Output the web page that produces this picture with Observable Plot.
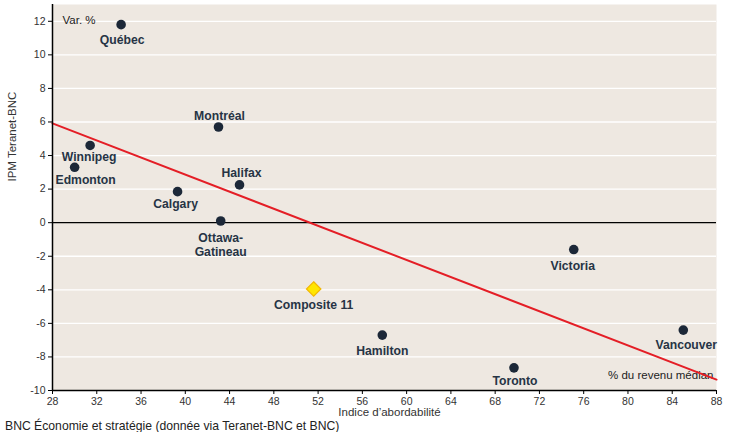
<!DOCTYPE html>
<html>
<head>
<meta charset="utf-8">
<script src="https://cdn.jsdelivr.net/npm/d3@7"></script>
<script src="https://cdn.jsdelivr.net/npm/@observablehq/plot@0.6"></script>
<style>
  body { margin: 0; background: #fff; font-family: "Liberation Sans", Arial, sans-serif; }
  #chart svg { display: block; }
  .caption { font-size: 12.2px; color: #222; margin: 0 0 0 5px; line-height: 12px; }
</style>
</head>
<body>
<div id="chart"></div>
<div class="caption">BNC Économie et stratégie (donnée via Teranet-BNC et BNC)</div>
<script>
// Data
const cities = ["Québec", "Montréal", "Winnipeg", "Edmonton", "Calgary", "Halifax", "Ottawa-\nGatineau", "Hamilton", "Victoria", "Vancouver", "Toronto"];
const affordability = [34.2, 43.0, 31.4, 30.0, 39.3, 44.9, 43.2, 57.8, 75.1, 85.0, 69.7];
const ipmChange = [11.8, 5.7, 4.6, 3.3, 1.85, 2.25, 0.1, -6.7, -1.6, -6.4, -8.65];
const compositeName = ["Composite 11"];
const compositeAffordability = [51.6];
const compositeIpm = [-3.95];
const trendX = [28, 88];
const trendY = [5.92, -9.35];
const xTicks = [28, 32, 36, 40, 44, 48, 52, 56, 60, 64, 68, 72, 76, 80, 84, 88];
const yTicks = [-10, -8, -6, -4, -2, 0, 2, 4, 6, 8, 10, 12];

// Label styling (offsets in px)
const labelStyle = {
  "Québec": {dx: 1, dy: 15},
  "Montréal": {dx: 1, dy: -12},
  "Winnipeg": {dx: -1, dy: 11},
  "Edmonton": {dx: 11, dy: 12},
  "Calgary": {dx: -2, dy: 12},
  "Halifax": {dx: 2, dy: -12},
  "Ottawa-\nGatineau": {dx: 0, dy: 24},
  "Hamilton": {dx: 0, dy: 15},
  "Victoria": {dx: -1, dy: 16},
  "Vancouver": {dx: 3, dy: 14},
  "Toronto": {dx: 1, dy: 13}
};

const idx = d3.range(cities.length);
const trend = trendX.map((x, i) => ({x, y: trendY[i]}));
const comp = compositeName.map((n, i) => ({n, x: compositeAffordability[i], y: compositeIpm[i]}));

const navy = "#1c2838";
const labelFont = {fontSize: 12.2, fontWeight: "bold", fill: "#263445", fontFamily: "Liberation Sans, Arial, sans-serif"};

const plot = Plot.plot({
  width: 734,
  height: 420,
  marginLeft: 52,
  marginRight: 18,
  marginTop: 4,
  marginBottom: 30,
  style: {fontFamily: "Liberation Sans, Arial, sans-serif", fontSize: "10.5px", color: "#333", background: "#fff"},
  x: {domain: [28, 88], ticks: xTicks, tickFormat: d => String(d), tickSize: 4, tickPadding: 3, label: null},
  y: {domain: [-10, 13], ticks: yTicks, tickFormat: d => String(d), tickSize: 4, tickPadding: 3, label: null},
  marks: [
    Plot.frame({fill: "#EEE8E1", stroke: null}),
    Plot.ruleY(yTicks.filter(d => d !== 0 && d !== -10), {stroke: "#ffffff", strokeWidth: 1.3}),
    Plot.ruleY([0], {stroke: "#000", strokeWidth: 1.2}),
    Plot.axisX({ticks: xTicks, tickFormat: d => String(d), tickSize: 4, tickPadding: 3, stroke: "#000", fill: "#333", fontSize: 10.5}),
    Plot.axisY({ticks: yTicks, tickFormat: d => String(d), tickSize: 4, tickPadding: 3, stroke: "#000", fill: "#333", fontSize: 10.5}),
    Plot.text(["% du revenu médian"], {frameAnchor: "bottom-right", dx: -3, dy: -12, textAnchor: "end", fontSize: 11.5, fill: "#222"}),
    Plot.line(trend, {x: "x", y: "y", stroke: "#E41E26", strokeWidth: 2}),
    Plot.ruleX([28], {stroke: "#000", strokeWidth: 1.5}),
    Plot.ruleY([-10], {stroke: "#000", strokeWidth: 1.5}),
    Plot.dot(idx, {x: i => affordability[i], y: i => ipmChange[i], r: 4.8, fill: navy, stroke: null}),
    Plot.dot(comp, {x: "x", y: "y", symbol: "diamond2", r: 6.5, fill: "#FFE600", stroke: "#F2B705", strokeWidth: 1.2}),
    ...idx.map(i => Plot.text([i], {
      x: i => affordability[i], y: i => ipmChange[i], text: i => cities[i],
      dx: labelStyle[cities[i]].dx, dy: labelStyle[cities[i]].dy, lineHeight: 1.15,
      ...labelFont
    })),
    Plot.text(comp, {x: "x", y: "y", text: "n", dy: 16, ...labelFont}),
    Plot.text(["Var. %"], {frameAnchor: "top-left", dx: 10, dy: 11, textAnchor: "start", fontSize: 11.5, fill: "#222"}),
    Plot.text(["Indice d’abordabilité"], {frameAnchor: "bottom", dx: 5, dy: 25, fontSize: 11.5, fill: "#333"}),
    Plot.text(["IPM Teranet-BNC"], {frameAnchor: "left", dx: -40, dy: -16, rotate: -90, fontSize: 11.5, fill: "#333"})
  ]
});
document.getElementById("chart").appendChild(plot);
</script>
</body>
</html>
